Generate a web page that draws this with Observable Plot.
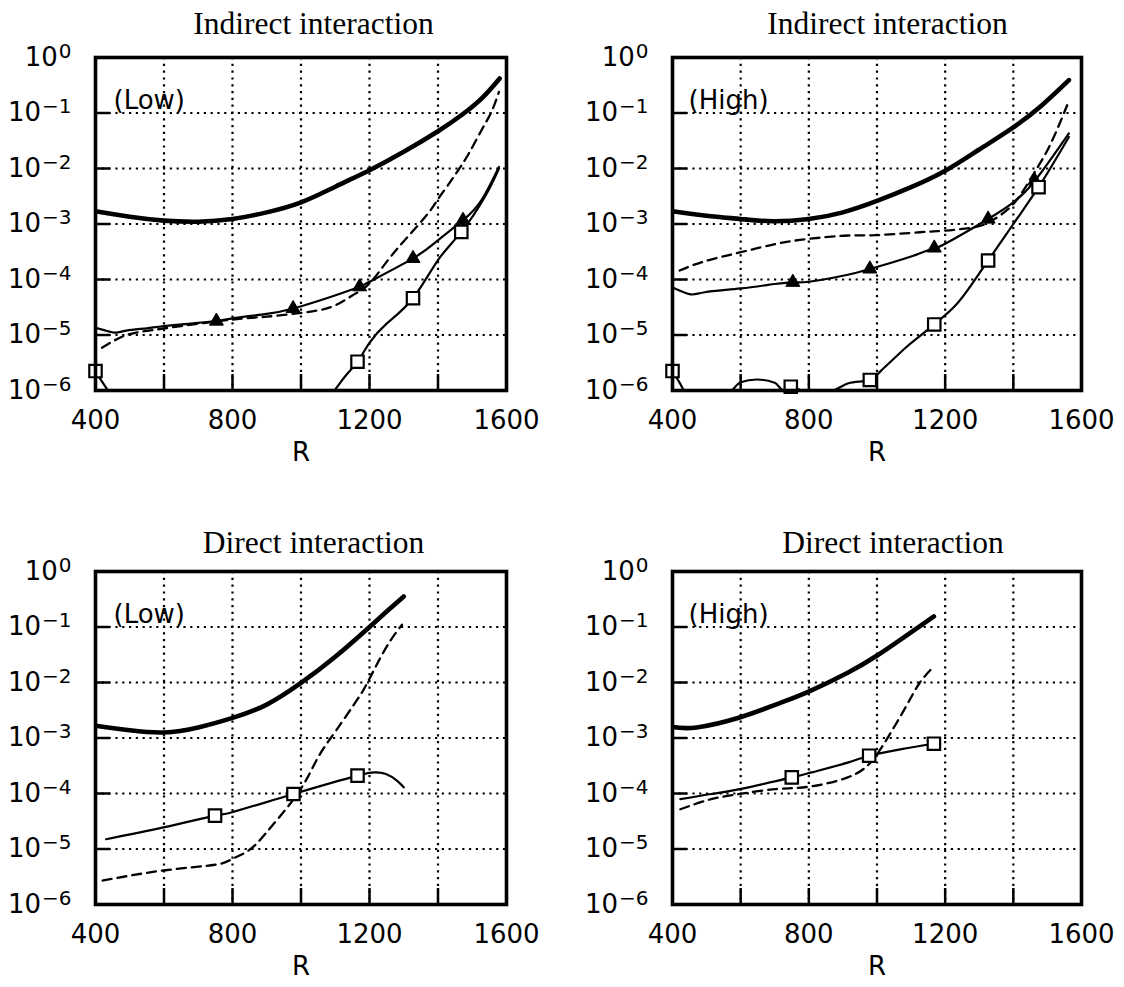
<!DOCTYPE html>
<html><head><meta charset="utf-8">
<script src="https://cdn.jsdelivr.net/npm/d3@7"></script>
<script src="https://cdn.jsdelivr.net/npm/@observablehq/plot@0.6"></script>
<style>
body{margin:0;background:#fff}
#wrap{position:relative;width:1124px;height:987px;background:#fff}
#wrap svg{position:absolute;background:transparent;overflow:visible}
</style></head><body><div id="wrap"></div>
<script>
// ---------- axes ----------
const yTicks = [1e-6, 1e-5, 1e-4, 1e-3, 1e-2, 1e-1, 1];
const xLabelTicks = [400, 800, 1200, 1600];
const xGridTicks = [400, 600, 800, 1000, 1200, 1400, 1600];
const xLabel = "R";

// ---------- panel 1: Indirect interaction (Low) ----------
const p1Title = "Indirect interaction", p1Tag = "(Low)";
const p1ThickR = [400,500,600,700,800,900,1000,1100,1200,1300,1400,1470,1530,1580];
const p1Thick  = [1.7e-3,1.35e-3,1.15e-3,1.1e-3,1.23e-3,1.62e-3,2.45e-3,4.7e-3,9.3e-3,2.0e-2,4.7e-2,9.3e-2,0.19,0.42];
const p1DashR  = [419,481,544,650,800,900,1000,1088,1151,1200,1254,1312,1371,1400,1429,1459,1490,1527,1556,1578];
const p1Dash   = [5.9e-6,9.5e-6,1.17e-5,1.45e-5,1.9e-5,2.14e-5,2.5e-5,3.2e-5,5.2e-5,8.5e-5,2.24e-4,5.9e-4,1.55e-3,2.8e-3,5.0e-3,9.3e-3,1.86e-2,4.9e-2,0.105,0.24];
const p1TriR   = [400,430,460,490,550,600,700,753,800,900,977,1088,1171,1200,1327,1400,1473,1527,1578];
const p1Tri    = [1.35e-5,1.2e-5,1.1e-5,1.2e-5,1.32e-5,1.45e-5,1.66e-5,1.78e-5,2.0e-5,2.4e-5,3.0e-5,4.9e-5,7.4e-5,9.1e-5,2.4e-4,5.1e-4,1.17e-3,2.7e-3,1.07e-2];
const p1SqAR   = [400,420,448];
const p1SqA    = [2.24e-6,1.41e-6,7.9e-7];
const p1SqBR   = [1085,1110,1135,1165,1200,1250,1327,1400,1468,1537,1578];
const p1SqB    = [7.9e-7,1.26e-6,2.0e-6,3.3e-6,7.2e-6,1.6e-5,4.6e-5,2.24e-4,7.2e-4,3.1e-3,1.0e-2];
const p1TriMarkR = [753,977,1171,1327,1473];
const p1SqMarkR  = [400,1165,1327,1468];

// ---------- panel 2: Indirect interaction (High) ----------
const p2Title = "Indirect interaction", p2Tag = "(High)";
const p2ThickR = [400,500,600,695,800,900,1000,1100,1200,1300,1400,1484,1563];
const p2Thick  = [1.7e-3,1.41e-3,1.23e-3,1.12e-3,1.23e-3,1.62e-3,2.6e-3,4.6e-3,9.1e-3,2.2e-2,5.5e-2,0.138,0.39];
const p2DashR  = [421,495,600,705,800,916,1000,1126,1200,1284,1337,1400,1453,1505,1558];
const p2Dash   = [1.45e-4,2.14e-4,3.1e-4,4.4e-4,5.4e-4,6.2e-4,6.3e-4,7.1e-4,7.6e-4,8.7e-4,1.15e-3,2.3e-3,6.9e-3,2.45e-2,0.138];
const p2TriR   = [400,453,495,600,700,753,800,900,979,1100,1168,1200,1326,1400,1463,1563];
const p2Tri    = [7.2e-5,5.4e-5,5.9e-5,6.9e-5,8.3e-5,8.9e-5,9.1e-5,1.17e-4,1.55e-4,2.6e-4,3.7e-4,4.4e-4,1.23e-3,2.45e-3,6.0e-3,4.3e-2];
const p2SqR    = [400,420,442,560,600,647,700,726,747,800,870,916,979,1021,1084,1168,1232,1326,1400,1474,1563];
const p2Sq     = [2.24e-6,1.41e-6,8.9e-7,8.9e-7,1.41e-6,1.58e-6,1.38e-6,1.0e-6,1.17e-6,8.9e-7,1.0e-6,1.35e-6,1.55e-6,2.57e-6,5.9e-6,1.55e-5,3.5e-5,2.2e-4,1.0e-3,4.6e-3,3.7e-2];
const p2TriMarkR = [753,979,1168,1326,1463];
const p2SqMarkR  = [400,747,979,1168,1326,1474];

// ---------- panel 3: Direct interaction (Low) ----------
const p3Title = "Direct interaction", p3Tag = "(Low)";
const p3ThickR = [400,500,600,700,800,900,1000,1100,1200,1250,1300];
const p3Thick  = [1.66e-3,1.38e-3,1.26e-3,1.55e-3,2.3e-3,4.0e-3,9.8e-3,2.9e-2,0.1,0.19,0.355];
const p3DashR  = [421,598,749,799,853,915,996,1050,1102,1165,1196,1248,1295];
const p3Dash   = [2.7e-6,4.1e-6,5.2e-6,6.6e-6,1.0e-5,2.6e-5,1.12e-4,4.5e-4,1.35e-3,5.0e-3,1.05e-2,4.2e-2,0.11];
const p3SqR    = [431,598,749,799,978,1165,1217,1248,1280,1300];
const p3Sq     = [1.5e-5,2.45e-5,4.0e-5,4.6e-5,9.8e-5,2.1e-4,2.4e-4,2.24e-4,1.7e-4,1.29e-4];
const p3SqMarkR = [749,978,1165];

// ---------- panel 4: Direct interaction (High) ----------
const p4Title = "Direct interaction", p4Tag = "(High)";
const p4ThickR = [400,471,597,703,798,914,998,1083,1167];
const p4Thick  = [1.58e-3,1.55e-3,2.34e-3,4.0e-3,6.8e-3,1.5e-2,3.0e-2,6.8e-2,0.155];
const p4DashR  = [423,513,597,703,798,914,977,1020,1083,1125,1167];
const p4Dash   = [5.2e-5,7.9e-5,9.8e-5,1.2e-4,1.32e-4,1.95e-4,3.4e-4,7.8e-4,3.5e-3,9.8e-3,1.95e-2];
const p4SqR    = [423,513,597,750,808,914,977,1072,1167];
const p4Sq     = [7.9e-5,9.8e-5,1.2e-4,1.95e-4,2.4e-4,3.6e-4,4.8e-4,6.3e-4,7.9e-4];
const p4SqMarkR = [750,977,1167];

// ---------- helpers ----------
const table = (R, V) => R.map((r, i) => ({R: r, v: V[i]}));
const pick = (tbl, marks) => tbl.filter(d => marks.includes(d.R));
const expLabel = d => { const e = Math.round(Math.log10(d)); return "10^" + (e === 0 ? "0" : "\u2212" + (-e)); };

const SANS = "DejaVu Sans", SERIF = "Liberation Serif";
const CURVE = "natural";
const gridStyle = {stroke: "#000", strokeOpacity: 1, strokeWidth: 2.2, strokeDasharray: "2.2,4.6"};

function panel(L, P) {
  const fw = L.width - L.ml - L.mr, fh = L.height - L.mt - L.mb;
  const marks = [
    Plot.gridX(xGridTicks, gridStyle),
    Plot.gridY(yTicks, gridStyle),
    Plot.tickX(xGridTicks, {x: d => d, insetTop: fh - 16, strokeWidth: 2.5}),
    Plot.tickY(yTicks, {y: d => d, insetRight: fw - 15, strokeWidth: 2.5}),
    Plot.line(table(P.thickR, P.thick), {x: "R", y: "v", curve: CURVE, strokeWidth: 4.6, clip: true}),
    Plot.line(table(P.dashR, P.dash), {x: "R", y: "v", curve: CURVE, strokeWidth: 2.3, strokeDasharray: "9,6", clip: true})
  ];
  for (const s of P.thin) {
    marks.push(Plot.line(table(s.R, s.V), {x: "R", y: "v", curve: s.curve || CURVE, strokeWidth: 2.2, clip: true}));
  }
  for (const m of P.markers) {
    const pts = pick(m.tbl, m.R);
    if (m.symbol === "square")
      marks.push(Plot.dot(pts, {x: "R", y: "v", symbol: "square", r: 7, fill: "white", stroke: "black", strokeWidth: 2.2}));
    else
      marks.push(Plot.dot(pts, {x: "R", y: "v", symbol: "triangle", r: 5.2, fill: "black", stroke: "black", strokeWidth: 1}));
  }
  marks.push(
    Plot.frame({strokeWidth: 3.6}),
    Plot.axisX({ticks: xLabelTicks, tickSize: 0, tickPadding: 20, tickFormat: d => String(d), label: xLabel, labelAnchor: "center", labelArrow: "none", labelOffset: 70, fontSize: 26}),
    Plot.axisY({ticks: yTicks, tickSize: 0, tickPadding: 24, tickFormat: expLabel, label: null, fontSize: 26}),
    Plot.text([P.title], {frameAnchor: "top", dx: L.titleDx, dy: L.titleDy, lineAnchor: "bottom", fontFamily: SERIF, fontSize: 31.5}),
    Plot.text([P.tag], {frameAnchor: "top-left", dx: L.tagDx, dy: 51.5, lineAnchor: "bottom", textAnchor: "start", fontSize: 26})
  );
  const svg = Plot.plot({
    width: L.width, height: L.height,
    marginLeft: L.ml, marginRight: L.mr, marginTop: L.mt, marginBottom: L.mb,
    style: {fontFamily: SANS, fontSize: "26px", background: "transparent", color: "black"},
    x: {domain: [400, 1600]},
    y: {type: "log", domain: [1e-6, 1]},
    marks
  });
  svg.style.left = L.left + "px";
  svg.style.top = L.top + "px";
  d3.select(svg).selectAll('g[aria-label="y-axis tick label"] text').each(function () {
    const [b, e] = this.textContent.split("^");
    const t = d3.select(this);
    t.text(null);
    t.append("tspan").text(b);
    t.append("tspan").attr("dy", -8).attr("dx", 1).attr("font-size", 20).text(e);
  });
  document.getElementById("wrap").appendChild(svg);
}

const layoutTL = {left: 0,   top: 0,   width: 562, height: 480, ml: 95,  mr: 56, mt: 57, mb: 90, titleDx: 12.5, titleDy: -24, tagDx: 18};
const layoutTR = {left: 562, top: 0,   width: 562, height: 480, ml: 110, mr: 43, mt: 57, mb: 90, titleDx: 10.5, titleDy: -24, tagDx: 16};
const layoutBL = {left: 0,   top: 480, width: 562, height: 507, ml: 95,  mr: 56, mt: 91, mb: 83, titleDx: 12.5, titleDy: -19, tagDx: 18};
const layoutBR = {left: 562, top: 480, width: 562, height: 507, ml: 110, mr: 43, mt: 91, mb: 83, titleDx: 16,   titleDy: -19, tagDx: 16};

const t1Tri = table(p1TriR, p1Tri), t1SqA = table(p1SqAR, p1SqA), t1SqB = table(p1SqBR, p1SqB);
panel(layoutTL, {
  title: p1Title, tag: p1Tag, thickR: p1ThickR, thick: p1Thick, dashR: p1DashR, dash: p1Dash,
  thin: [{R: p1TriR, V: p1Tri}, {R: p1SqAR, V: p1SqA}, {R: p1SqBR, V: p1SqB}],
  markers: [{tbl: t1Tri, R: p1TriMarkR, symbol: "triangle"}, {tbl: t1SqA.concat(t1SqB), R: p1SqMarkR, symbol: "square"}]
});
panel(layoutTR, {
  title: p2Title, tag: p2Tag, thickR: p2ThickR, thick: p2Thick, dashR: p2DashR, dash: p2Dash,
  thin: [{R: p2TriR, V: p2Tri}, {R: p2SqR, V: p2Sq, curve: "monotone-x"}],
  markers: [{tbl: table(p2TriR, p2Tri), R: p2TriMarkR, symbol: "triangle"}, {tbl: table(p2SqR, p2Sq), R: p2SqMarkR, symbol: "square"}]
});
panel(layoutBL, {
  title: p3Title, tag: p3Tag, thickR: p3ThickR, thick: p3Thick, dashR: p3DashR, dash: p3Dash,
  thin: [{R: p3SqR, V: p3Sq}],
  markers: [{tbl: table(p3SqR, p3Sq), R: p3SqMarkR, symbol: "square"}]
});
panel(layoutBR, {
  title: p4Title, tag: p4Tag, thickR: p4ThickR, thick: p4Thick, dashR: p4DashR, dash: p4Dash,
  thin: [{R: p4SqR, V: p4Sq}],
  markers: [{tbl: table(p4SqR, p4Sq), R: p4SqMarkR, symbol: "square"}]
});
</script></body></html>
